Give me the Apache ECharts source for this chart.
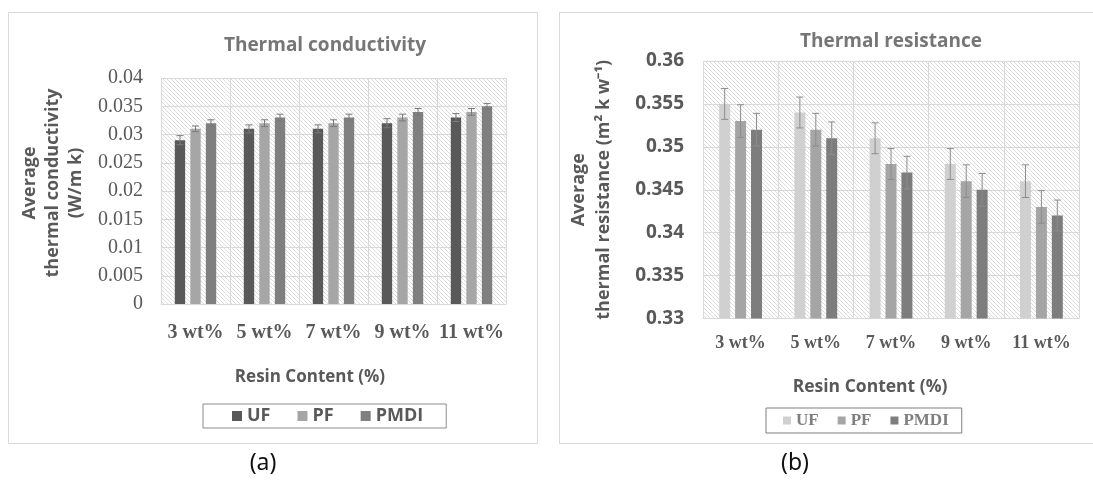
<!DOCTYPE html>
<html>
<head>
<meta charset="utf-8">
<script src="https://cdn.jsdelivr.net/npm/echarts@6/dist/echarts.min.js"></script>
<style>
  html, body { margin: 0; padding: 0; background: #fff; }
  #chart { width: 1093px; height: 486px; }
</style>
</head>
<body>
<div id="chart"></div>
<script>
// data
const categories = ['3 wt%', '5 wt%', '7 wt%', '9 wt%', '11 wt%']
const seriesNames = ['UF', 'PF', 'PMDI']

// (a) thermal conductivity (W/m k)
const condUF = [0.029, 0.031, 0.031, 0.032, 0.033]
const condPF = [0.031, 0.032, 0.032, 0.033, 0.034]
const condPMDI = [0.032, 0.033, 0.033, 0.034, 0.035]
const condErrUF = [0.0008, 0.0007, 0.0007, 0.0008, 0.0007]
const condErrPF = [0.0005, 0.0006, 0.0006, 0.0006, 0.0006]
const condErrPMDI = [0.0006, 0.0006, 0.0006, 0.0006, 0.0005]

// (b) thermal resistance (m2 k w-1)
const resUF = [0.355, 0.354, 0.351, 0.348, 0.346]
const resPF = [0.353, 0.352, 0.348, 0.346, 0.343]
const resPMDI = [0.352, 0.351, 0.347, 0.345, 0.342]
const resErrUF = [0.0018, 0.0018, 0.0018, 0.0018, 0.0019]
const resErrPF = [0.0019, 0.0019, 0.0018, 0.0019, 0.0019]
const resErrPMDI = [0.0019, 0.0019, 0.0019, 0.0019, 0.0018]

const condColors = ['#595959', '#a6a6a6', '#7f7f7f']
const resColors = ['#d0d0d0', '#a5a5a5', '#7d7d7d']

// hatched plot background
const makeHatch = () => {
  const c = document.createElement('canvas')
  c.width = 4
  c.height = 4
  const ctx = c.getContext('2d')
  ctx.fillStyle = '#ffffff'
  ctx.fillRect(0, 0, 4, 4)
  ctx.strokeStyle = '#dcdcdc'
  ctx.lineWidth = 1
  for (let o = -4; o <= 4; o += 4) {
    ctx.beginPath()
    ctx.moveTo(o, 0)
    ctx.lineTo(o + 4, 4)
    ctx.stroke()
  }
  return c
}
const hatch = { image: makeHatch(), repeat: 'repeat' }

const fmt = (v) => String(parseFloat(v.toFixed(3)))

// error bar renderer, offset = position of bar inside the group (fraction of band)
const errorBars = (axisIdx, values, errs, offset, color) => ({
  type: 'custom',
  xAxisIndex: axisIdx,
  yAxisIndex: axisIdx,
  silent: true,
  z: 5,
  data: values.map((v, i) => [i, v + errs[i], v - errs[i]]),
  renderItem: (params, api) => {
    const band = api.size([1, 0])[0]
    const hi = api.coord([api.value(0), api.value(1)])
    const lo = api.coord([api.value(0), api.value(2)])
    const x = hi[0] + offset * band
    const cap = 3.5
    const style = { stroke: color, lineWidth: 1 }
    return {
      type: 'group',
      children: [
        { type: 'line', shape: { x1: x, y1: hi[1], x2: x, y2: lo[1] }, style },
        { type: 'line', shape: { x1: x - cap, y1: hi[1], x2: x + cap, y2: hi[1] }, style },
        { type: 'line', shape: { x1: x - cap, y1: lo[1], x2: x + cap, y2: lo[1] }, style },
      ],
    }
  },
})

const sans = '"Open Sans", sans-serif'
const serif = '"Liberation Serif", "Times New Roman", serif'

const condVals = [condUF, condPF, condPMDI]
const condErrs = [condErrUF, condErrPF, condErrPMDI]
const resVals = [resUF, resPF, resPMDI]
const resErrs = [resErrUF, resErrPF, resErrPMDI]

const series = []
seriesNames.forEach((name, k) => {
  series.push({
    name,
    type: 'bar',
    xAxisIndex: 0,
    yAxisIndex: 0,
    barWidth: '15%',
    barGap: '50%',
    itemStyle: { color: condColors[k] },
    data: condVals[k],
  })
})
seriesNames.forEach((name, k) => {
  series.push({
    name,
    type: 'bar',
    xAxisIndex: 1,
    yAxisIndex: 1,
    barWidth: '14.6%',
    barGap: '45%',
    itemStyle: { color: resColors[k] },
    data: resVals[k],
  })
})
seriesNames.forEach((name, k) => {
  series.push(errorBars(0, condVals[k], condErrs[k], (k - 1) * 0.15 * 1.5, '#7a7a7a'))
  series.push(errorBars(1, resVals[k], resErrs[k], (k - 1) * 0.146 * 1.45, '#8c8c8c'))
})

const gridLine = { show: true, lineStyle: { color: '#d9d9d9', width: 1 } }
const catSplit = { show: true, interval: 0, lineStyle: { color: '#d9d9d9', width: 1 } }

const option = {
  animation: false,
  backgroundColor: '#ffffff',
  grid: [
    { left: 161, right: 587, top: 78, bottom: 182, show: true, borderWidth: 0, backgroundColor: hatch },
    { left: 703, right: 14, top: 61, bottom: 167.5, show: true, borderWidth: 0, backgroundColor: hatch },
  ],
  xAxis: [
    {
      gridIndex: 0,
      type: 'category',
      data: categories,
      axisLine: { lineStyle: { color: '#d9d9d9' } },
      axisTick: { show: false },
      splitLine: catSplit,
      axisLabel: { interval: 0, color: '#595959', fontFamily: serif, fontWeight: 'bold', fontSize: 20, margin: 19 },
    },
    {
      gridIndex: 1,
      type: 'category',
      data: categories,
      axisLine: { lineStyle: { color: '#d9d9d9' } },
      axisTick: { show: false },
      splitLine: catSplit,
      axisLabel: { interval: 0, color: '#595959', fontFamily: serif, fontWeight: 'bold', fontSize: 18, margin: 16 },
    },
  ],
  yAxis: [
    {
      gridIndex: 0,
      type: 'value',
      min: 0,
      max: 0.04,
      interval: 0.005,
      splitLine: gridLine,
      axisLine: { show: false },
      axisTick: { show: false },
      axisLabel: { color: '#595959', fontFamily: serif, fontSize: 20, margin: 18, formatter: fmt },
      name: 'Average\nthermal conductivity\n(W/m k)',
      nameLocation: 'middle',
      nameRotate: 90,
      nameGap: 74,
      nameTextStyle: {
        color: '#595959',
        fontFamily: sans,
        fontWeight: 'bold',
        fontSize: 18,
        lineHeight: 23,
        padding: [0, 0, 0, 16],
      },
    },
    {
      gridIndex: 1,
      type: 'value',
      min: 0.33,
      max: 0.36,
      interval: 0.005,
      splitLine: gridLine,
      axisLine: { show: false },
      axisTick: { show: false },
      axisLabel: { color: '#595959', fontFamily: sans, fontWeight: 'bold', fontSize: 19, margin: 19, formatter: fmt },
      name: 'Average\nthermal resistance (m² k w⁻¹)',
      nameLocation: 'middle',
      nameRotate: 90,
      nameGap: 87,
      nameTextStyle: {
        color: '#595959',
        fontFamily: sans,
        fontWeight: 'bold',
        fontSize: 18,
        lineHeight: 25,
      },
    },
  ],
  legend: [
    {
      data: seriesNames.map((n, k) => ({ name: n, itemStyle: { color: condColors[k] } })),
      left: 203,
      top: 404,
      padding: [3, 23, 3, 29],
      itemWidth: 10,
      itemHeight: 10,
      itemGap: 27,
      icon: 'rect',
      borderColor: '#8c8c8c',
      borderWidth: 1,
      selectedMode: false,
      textStyle: { color: '#595959', fontFamily: sans, fontWeight: 'bold', fontSize: 18 },
    },
    {
      data: seriesNames.map((n, k) => ({ name: n, itemStyle: { color: resColors[k] } })),
      left: 766,
      top: 408,
      padding: [4, 13, 4, 17],
      itemWidth: 8,
      itemHeight: 8,
      itemGap: 19,
      icon: 'rect',
      borderColor: '#7f7f7f',
      borderWidth: 1,
      selectedMode: false,
      textStyle: { color: '#7f7f7f', fontFamily: serif, fontWeight: 'bold', fontSize: 17 },
    },
  ],
  graphic: [
    { type: 'rect', silent: true, z: -1, shape: { x: 8.5, y: 12.5, width: 529, height: 431 }, style: { fill: null, stroke: '#d9d9d9', lineWidth: 1 } },
    { type: 'rect', silent: true, z: -1, shape: { x: 559.5, y: 12.5, width: 540, height: 431 }, style: { fill: null, stroke: '#d9d9d9', lineWidth: 1 } },
    { type: 'text', x: 325, y: 46, style: { text: 'Thermal conductivity', fill: '#767676', font: 'bold 19px ' + sans, align: 'center', verticalAlign: 'middle' } },
    { type: 'text', x: 891, y: 42, style: { text: 'Thermal resistance', fill: '#767676', font: 'bold 19px ' + sans, align: 'center', verticalAlign: 'middle' } },
    { type: 'text', x: 310, y: 377, style: { text: 'Resin Content (%)', fill: '#595959', font: 'bold 17px ' + sans, align: 'center', verticalAlign: 'middle' } },
    { type: 'text', x: 870, y: 387, style: { text: 'Resin Content (%)', fill: '#595959', font: 'bold 17.5px ' + sans, align: 'center', verticalAlign: 'middle' } },
    { type: 'text', x: 263, y: 463, style: { text: '(a)', fill: '#111111', font: '23px "Noto Sans", sans-serif', align: 'center', verticalAlign: 'middle' } },
    { type: 'text', x: 795, y: 463, style: { text: '(b)', fill: '#111111', font: '23px "Noto Sans", sans-serif', align: 'center', verticalAlign: 'middle' } },
  ],
  series,
}

const chart = echarts.init(document.getElementById('chart'))
chart.setOption(option)
</script>
</body>
</html>
